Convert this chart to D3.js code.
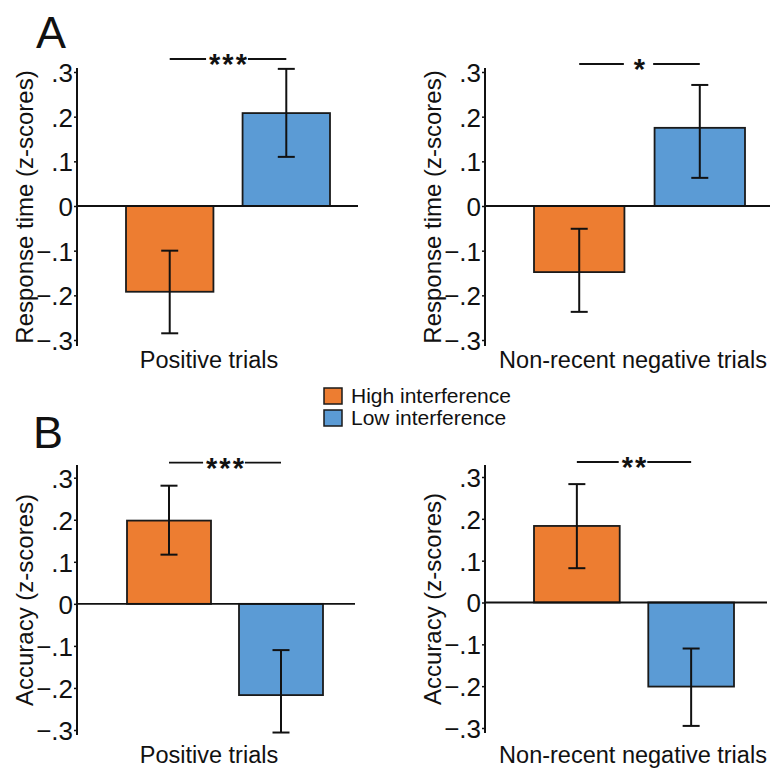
<!DOCTYPE html>
<html>
<head>
<meta charset="utf-8">
<title>Interference effects on response time and accuracy</title>
<script src="https://d3js.org/d3.v7.min.js"></script>
<style>
    body { margin: 0; background: #fff; }
    svg text { font-family: "Liberation Sans", Arial, sans-serif; fill: #111; }
    .tick text { font-size: 26px; }
    .ylab { font-size: 24px; }
    .xlab { font-size: 23.5px; }
    .legend text { font-size: 21px; }
    .panel-letter { font-size: 45px; }
    .stars { font-size: 29px; font-weight: bold; letter-spacing: 2px; }
</style>
</head>
<body>
<div id="chart"></div>
<script>
    // groups (legend order)
    var groups = ["High interference", "Low interference"];
    var colors = ["#ED7D31", "#5B9BD5"];
    var yTicks = [-0.3, -0.2, -0.1, 0, 0.1, 0.2, 0.3];

    // response time (z-scores), means and error bar ends
    var rtPositiveMean = [-0.192, 0.208];
    var rtPositiveLow = [-0.285, 0.110];
    var rtPositiveHigh = [-0.100, 0.307];

    var rtNegativeMean = [-0.148, 0.175];
    var rtNegativeLow = [-0.237, 0.063];
    var rtNegativeHigh = [-0.051, 0.271];

    // accuracy (z-scores)
    var accPositiveMean = [0.198, -0.217];
    var accPositiveLow = [0.117, -0.306];
    var accPositiveHigh = [0.281, -0.110];

    var accNegativeMean = [0.183, -0.201];
    var accNegativeLow = [0.082, -0.295];
    var accNegativeHigh = [0.283, -0.110];

    var width = 772, height = 769;

    var svg = d3.select("#chart").append("svg")
        .attr("width", width)
        .attr("height", height);

    svg.append("rect").attr("width", width).attr("height", height).attr("fill", "#fff");

    // layout of the four panels
    var panels = [
        {mean: rtPositiveMean, low: rtPositiveLow, high: rtPositiveHigh, stars: "***",
         ylabel: "Response time (z-scores)", xlabel: "Positive trials",
         ax: 77, end: 358, bars: [126, 330], yr: [340, 72], top: 68, bot: 346, sigUp: 13, xlabX: 209, xlabY: 368},
        {mean: rtNegativeMean, low: rtNegativeLow, high: rtNegativeHigh, stars: "*",
         ylabel: "Response time (z-scores)", xlabel: "Non-recent negative trials",
         ax: 485, end: 770, bars: [534, 745], yr: [340, 72], top: 68, bot: 346, sigUp: 8, xlabX: 633, xlabY: 368},
        {mean: accPositiveMean, low: accPositiveLow, high: accPositiveHigh, stars: "***",
         ylabel: "Accuracy (z-scores)", xlabel: "Positive trials",
         ax: 77, end: 355, bars: [127, 323], yr: [730, 477.7], top: 465, bot: 735, sigUp: 15, xlabX: 209, xlabY: 763},
        {mean: accNegativeMean, low: accNegativeLow, high: accNegativeHigh, stars: "**",
         ylabel: "Accuracy (z-scores)", xlabel: "Non-recent negative trials",
         ax: 485, end: 767, bars: [534, 734], yr: [728, 477], top: 465, bot: 733, sigUp: 15, xlabX: 633, xlabY: 763}
    ];

    var fmt = function (d) {
        if (d === 0) return "0";
        return d3.format(".1f")(d).replace("0.", ".");
    };

    panels.forEach(function (p) {
        var g = svg.append("g");

        var y = d3.scaleLinear().domain([-0.3, 0.3]).range(p.yr);
        var x = d3.scaleBand().domain(groups).range(p.bars).paddingInner(0.25).paddingOuter(0);
        var bw = x.bandwidth();

        // y axis
        var axis = g.append("g")
            .attr("transform", "translate(" + p.ax + ",0)")
            .call(d3.axisLeft(y).tickValues(yTicks).tickFormat(fmt).tickSize(3).tickPadding(1));
        axis.select(".domain").remove();
        axis.selectAll(".tick line").attr("stroke", "#111").attr("stroke-width", 1.5);
        axis.selectAll(".tick text").attr("fill", "#111").attr("dy", "0.36em");
        g.append("line")
            .attr("x1", p.ax).attr("x2", p.ax)
            .attr("y1", p.top).attr("y2", p.bot)
            .attr("stroke", "#111").attr("stroke-width", 2);

        // bars
        var data = groups.map(function (gr, i) {
            return {group: gr, color: colors[i], mean: p.mean[i], low: p.low[i], high: p.high[i]};
        });

        g.selectAll("rect.bar")
            .data(data)
            .join("rect")
            .attr("class", "bar")
            .attr("x", function (d) { return x(d.group); })
            .attr("width", bw)
            .attr("y", function (d) { return y(Math.max(0, d.mean)); })
            .attr("height", function (d) { return Math.abs(y(d.mean) - y(0)); })
            .attr("fill", function (d) { return d.color; })
            .attr("stroke", "#1a1a1a")
            .attr("stroke-width", 1.8);

        // zero line
        g.append("line")
            .attr("x1", p.ax).attr("x2", p.end)
            .attr("y1", y(0)).attr("y2", y(0))
            .attr("stroke", "#111").attr("stroke-width", 1.8);

        // error bars
        var eb = g.selectAll("g.err").data(data).join("g").attr("class", "err")
            .attr("stroke", "#111").attr("stroke-width", 2);
        eb.append("line")
            .attr("x1", function (d) { return x(d.group) + bw / 2; })
            .attr("x2", function (d) { return x(d.group) + bw / 2; })
            .attr("y1", function (d) { return y(d.low); })
            .attr("y2", function (d) { return y(d.high); });
        ["low", "high"].forEach(function (k) {
            eb.append("line")
                .attr("x1", function (d) { return x(d.group) + bw / 2 - 8.5; })
                .attr("x2", function (d) { return x(d.group) + bw / 2 + 8.5; })
                .attr("y1", function (d) { return y(d[k]); })
                .attr("y2", function (d) { return y(d[k]); });
        });

        // significance bracket
        var sx1 = x(groups[0]) + bw / 2, sx2 = x(groups[1]) + bw / 2;
        var sy = y(0.3) - p.sigUp;
        var st = g.append("text")
            .attr("class", "stars")
            .attr("x", (sx1 + sx2) / 2 + 1)
            .attr("y", sy + 15)
            .attr("text-anchor", "middle")
            .text(p.stars);
        var tw = st.node().getComputedTextLength();
        var gap = p.stars.length === 1 ? 9 : 2;
        g.append("line").attr("x1", sx1).attr("x2", (sx1 + sx2) / 2 - tw / 2 - gap)
            .attr("y1", sy).attr("y2", sy).attr("stroke", "#111").attr("stroke-width", 1.8);
        g.append("line").attr("x1", (sx1 + sx2) / 2 + tw / 2 + gap - 2).attr("x2", sx2)
            .attr("y1", sy).attr("y2", sy).attr("stroke", "#111").attr("stroke-width", 1.8);

        // axis titles
        g.append("text")
            .attr("class", "ylab")
            .attr("transform", "translate(" + (p.ax - 53) + "," + ((p.top + p.bot) / 2) + ") rotate(-90)")
            .attr("text-anchor", "middle")
            .attr("dy", "0.36em")
            .text(p.ylabel);
        g.append("text")
            .attr("class", "xlab")
            .attr("x", p.xlabX)
            .attr("y", p.xlabY)
            .attr("text-anchor", "middle")
            .text(p.xlabel);
    });

    // panel letters
    svg.append("text").attr("class", "panel-letter").attr("x", 36).attr("y", 48).text("A");
    svg.append("text").attr("class", "panel-letter").attr("x", 33).attr("y", 448).text("B");

    // legend
    var legend = svg.append("g").attr("class", "legend");
    var li = legend.selectAll("g").data(groups).join("g")
        .attr("transform", function (d, i) { return "translate(324," + (388 + i * 22) + ")"; });
    li.append("rect")
        .attr("width", 18).attr("height", 16)
        .attr("fill", function (d, i) { return colors[i]; })
        .attr("stroke", "#1a1a1a").attr("stroke-width", 1.5);
    li.append("text")
        .attr("x", 27).attr("y", 15)
        .text(function (d) { return d; });
</script>
</body>
</html>
